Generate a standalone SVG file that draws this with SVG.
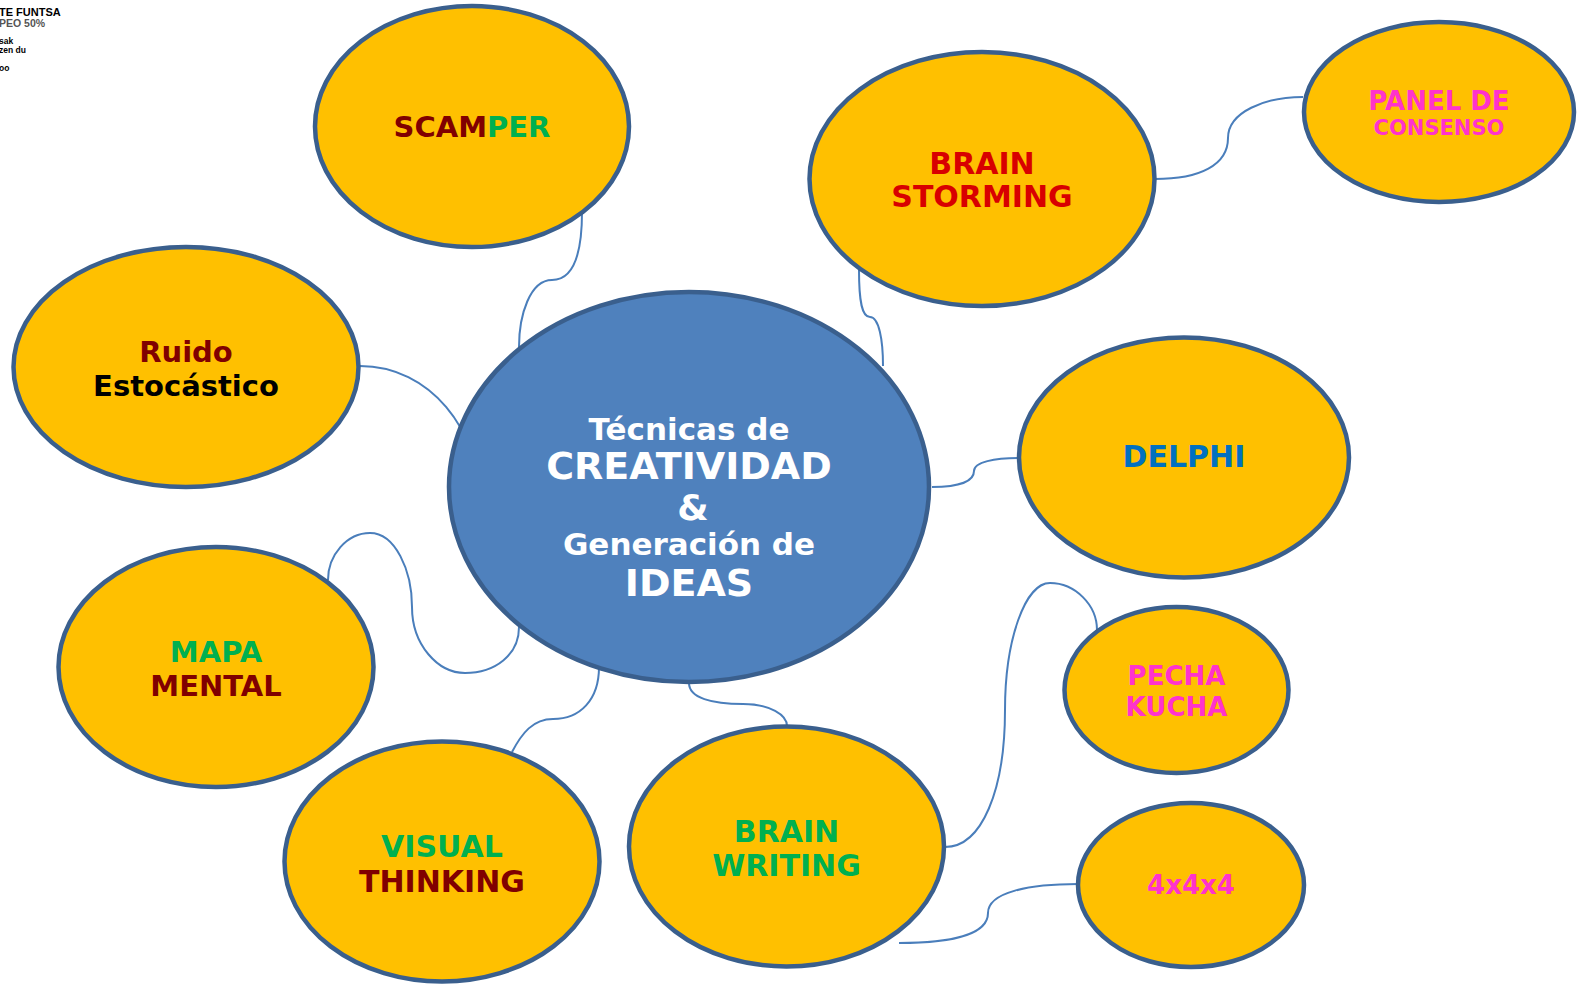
<svg xmlns="http://www.w3.org/2000/svg" width="1580" height="985" viewBox="0 0 1580 985">
<style>
.node{fill:#ffc000;stroke:#3a5f8d;stroke-width:4.5}
.hub{fill:#4f81bd;stroke:#3a5f8d;stroke-width:4.5}
.con{fill:none;stroke:#4a7ebb;stroke-width:2}
text{font-family:"DejaVu Sans",Verdana,sans-serif;font-weight:bold;text-anchor:middle}
.corner{font-family:"Liberation Sans",Arial,sans-serif;text-anchor:start}
.mar{fill:#800000}.grn{fill:#00b050}.red{fill:#d80000}.mag{fill:#ff33cc}.blu{fill:#0070c0}.blk{fill:#000}.wht{fill:#fff}
</style>
<rect width="1580" height="985" fill="#fff"/>
<g id="corner-text">
<text class="corner" x="-1" y="16" font-size="11" fill="#000">TE FUNTSA</text>
<text class="corner" x="-1" y="27" font-size="10.5" font-weight="normal" fill="#555">PEO 50%</text>
<text class="corner" x="-1" y="44" font-size="8.5" fill="#000">sak</text>
<text class="corner" x="-1" y="53" font-size="8.5" fill="#000">zen du</text>
<text class="corner" x="-1" y="71" font-size="8.5" font-weight="normal" fill="#000">oo</text>
</g>
<g id="connectors">
<path class="con" d="M582,212 C582,258 572,280 552,280 C530,280 519,315 519,347"/>
<path class="con" d="M859,270 C859,302 862,317 870,317 C879,317 883,340 883,366"/>
<path class="con" d="M1155,179 C1200,179 1228,165 1228,138 C1228,112 1265,97 1303,97"/>
<path class="con" d="M360,366 C430,366 480,430 480,503"/>
<path class="con" d="M328,580 C328,555 347,533 370,533 C395,533 412,570 412,607 C412,645 438,673 465,673 C495,673 519,655 519,627"/>
<path class="con" d="M512,752 C522,733 533,719 553,719 C580,719 599,700 599,667"/>
<path class="con" d="M689,683 C689,698 712,704 743,704 C770,704 787,715 787,726"/>
<path class="con" d="M945,847 C982,847 1005,790 1005,710 C1005,640 1025,583 1050,583 C1075,583 1097,605 1097,630"/>
<path class="con" d="M899,943 C950,943 988,935 988,913 C988,892 1030,884 1078,884"/>
<path class="con" d="M932,487 C960,487 974,481 974,471 C974,462 995,458 1018,458"/>
</g>
<g id="center">
<ellipse class="hub" cx="689" cy="487" rx="240" ry="195"/>
<text class="wht" x="689" y="440" font-size="31">Técnicas de</text>
<text class="wht" x="689" y="479" font-size="38">CREATIVIDAD</text>
<text class="wht" x="693" y="520" font-size="36">&amp;</text>
<text class="wht" x="689" y="555" font-size="31">Generación de</text>
<text class="wht" x="689" y="596" font-size="38">IDEAS</text>
</g>
<g id="scamper">
<ellipse class="node" cx="472" cy="126.5" rx="157" ry="120.5"/>
<text x="472" y="137" font-size="29"><tspan class="mar">SCAM</tspan><tspan class="grn">PER</tspan></text>
</g>
<g id="brainstorming">
<ellipse class="node" cx="982" cy="179" rx="172.5" ry="127"/>
<text class="red" x="982" y="174" font-size="30">BRAIN</text>
<text class="red" x="982" y="207" font-size="30">STORMING</text>
</g>
<g id="panel">
<ellipse class="node" cx="1439" cy="112" rx="135" ry="90"/>
<text class="mag" x="1439" y="110" font-size="26">PANEL DE</text>
<text class="mag" x="1439" y="135" font-size="21">CONSENSO</text>
</g>
<g id="ruido">
<ellipse class="node" cx="186" cy="367" rx="172.5" ry="120"/>
<text class="mar" x="186" y="362" font-size="29">Ruido</text>
<text class="blk" x="186" y="396" font-size="29">Estocástico</text>
</g>
<g id="delphi">
<ellipse class="node" cx="1184" cy="457.5" rx="165" ry="120"/>
<text class="blu" x="1184" y="467" font-size="30">DELPHI</text>
</g>
<g id="mapa">
<ellipse class="node" cx="216" cy="667" rx="157.5" ry="120"/>
<text class="grn" x="216" y="662" font-size="29">MAPA</text>
<text class="mar" x="216" y="696" font-size="29">MENTAL</text>
</g>
<g id="pecha">
<ellipse class="node" cx="1176.5" cy="690" rx="112" ry="83"/>
<text class="mag" x="1176.5" y="685" font-size="26">PECHA</text>
<text class="mag" x="1176.5" y="716" font-size="26">KUCHA</text>
</g>
<g id="visual">
<ellipse class="node" cx="442" cy="861.5" rx="157.5" ry="120"/>
<text class="grn" x="442" y="857" font-size="30">VISUAL</text>
<text class="mar" x="442" y="892" font-size="30">THINKING</text>
</g>
<g id="brainwriting">
<ellipse class="node" cx="786.5" cy="846.5" rx="157.5" ry="120"/>
<text class="grn" x="786.5" y="842" font-size="30">BRAIN</text>
<text class="grn" x="786.5" y="876" font-size="30">WRITING</text>
</g>
<g id="x444">
<ellipse class="node" cx="1191" cy="885" rx="113" ry="82"/>
<text class="mag" x="1191" y="894" font-size="26">4x4x4</text>
</g>
</svg>
